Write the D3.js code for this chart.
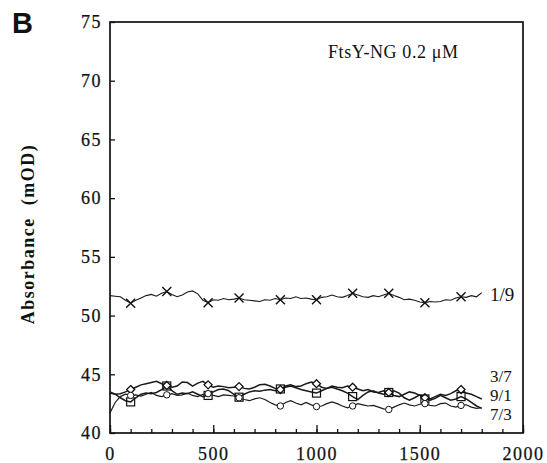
<!DOCTYPE html>
<html>
<head>
<meta charset="utf-8">
<script src="https://cdn.jsdelivr.net/npm/d3@7"></script>
<style>
  body { margin: 0; background: #fff; }
  svg { display: block; }
  .tick text { font-family: "Liberation Serif", "DejaVu Serif", serif; font-size: 18px; letter-spacing: 1.5px; fill: #111; stroke: #111; stroke-width: 0.25px; }
</style>
</head>
<body>
<div id="vis"></div>
<script>
// sample times (s)
var times = [0, 25, 50, 75, 100, 125, 150, 175, 200, 225,
	250, 275, 300, 325, 350, 375, 400, 425, 450, 475,
	500, 525, 550, 575, 600, 625, 650, 675, 700, 725,
	750, 775, 800, 825, 850, 875, 900, 925, 950, 975,
	1000, 1025, 1050, 1075, 1100, 1125, 1150, 1175, 1200, 1225,
	1250, 1275, 1300, 1325, 1350, 1375, 1400, 1425, 1450, 1475,
	1500, 1525, 1550, 1575, 1600, 1625, 1650, 1675, 1700, 1725,
	1750, 1775, 1800];

// absorbance (mOD) for each ratio
var s19 = [51.7, 51.65, 51.6, 51.3, 51.05, 51.3, 51.5, 51.7, 51.8, 51.65,
	51.9, 52.05, 51.8, 51.6, 51.75, 52.0, 52.1, 51.85, 51.3, 51.1,
	51.35, 51.3, 51.45, 51.35, 51.4, 51.5, 51.35, 51.3, 51.25, 51.2,
	51.35, 51.3, 51.45, 51.35, 51.5, 51.45, 51.6, 51.45, 51.5, 51.4,
	51.35, 51.55, 51.6, 51.75, 51.6, 51.55, 51.7, 51.9, 51.75, 51.6,
	51.55, 51.7, 51.6, 51.75, 51.9, 51.7, 51.55, 51.35, 51.4, 51.3,
	51.15, 51.1, 51.2, 51.15, 51.2, 51.35, 51.3, 51.5, 51.6, 51.55,
	51.7, 51.6, 51.95];

var s37 = [43.4, 43.3, 43.35, 43.5, 43.7, 43.9, 44.1, 44.2, 44.3, 44.4,
	44.2, 44.05, 43.9, 44.0, 44.35, 44.3, 44.0, 44.25, 44.4, 44.1,
	43.9, 44.0, 43.95, 43.85, 43.9, 43.95, 43.8, 43.75, 43.9, 44.1,
	44.15, 44.0, 43.8, 43.7, 44.0, 44.1, 43.95, 44.0, 44.2, 44.35,
	44.2, 43.9, 43.8, 44.0, 43.9, 43.85, 44.0, 43.9, 43.75, 43.6,
	43.7, 43.5, 43.45, 43.6, 43.45, 43.2, 43.1, 43.3, 43.5, 43.4,
	43.2, 43.0, 42.9, 43.1, 43.3, 43.2, 43.35, 43.6, 43.7, 43.4,
	43.3, 43.1, 42.9];

var s91 = [43.5, 43.3, 43.0, 42.75, 42.65, 43.0, 43.3, 43.4, 43.35, 43.45,
	43.7, 44.0, 43.6, 43.3, 43.4, 43.35, 43.5, 43.3, 43.1, 43.2,
	43.5, 43.7, 43.75, 43.6, 43.3, 43.05, 43.3, 43.5, 43.6, 43.55,
	43.65, 43.7, 43.6, 43.75, 43.9, 44.0, 43.85, 43.7, 43.6, 43.5,
	43.4, 43.6, 43.8, 43.9, 43.75, 43.6, 43.4, 43.1, 42.85, 43.2,
	43.5, 43.6, 43.4, 43.3, 43.45, 43.6, 43.4, 43.0, 42.8, 43.0,
	43.25, 42.9, 42.8, 42.95, 43.2, 43.0, 42.8, 42.9, 43.1, 42.9,
	42.6, 42.3, 42.1];

var s73 = [41.7, 42.6, 43.1, 43.3, 43.2, 43.25, 43.15, 43.3, 43.45, 43.2,
	43.1, 43.25, 43.35, 43.2, 43.25, 43.4, 43.2, 43.1, 43.3, 43.35,
	43.2, 43.1, 43.25, 43.2, 43.15, 43.0, 42.85, 42.75, 42.9, 43.0,
	42.85, 42.6, 42.4, 42.3, 42.6, 42.75, 42.55, 42.4, 42.6, 42.4,
	42.25, 42.3, 42.5, 42.65, 42.5, 42.3, 42.15, 42.3, 42.5, 42.4,
	42.3, 42.35, 42.2, 42.05, 42.0, 42.2, 42.4, 42.55, 42.4, 42.3,
	42.45, 42.5, 42.35, 42.3, 42.5, 42.55, 42.3, 42.2, 42.35, 42.4,
	42.2, 42.1, 42.15];

var markerTimes = [100, 275, 475, 625, 825, 1000, 1175, 1350, 1525, 1700];
var seriesNames = ["1/9", "3/7", "9/1", "7/3"];
var xTicks = [0, 500, 1000, 1500, 2000];
var yTicks = [40, 45, 50, 55, 60, 65, 70, 75];

var width = 547;
var height = 463;

var svg = d3.select("#vis")
	.append("svg")
	.attr("width", width)
	.attr("height", height);

var x = d3.scaleLinear().domain([0, 2000]).range([110, 523]);
var y = d3.scaleLinear().domain([40, 75]).range([433, 22]);

// frame
svg.append("rect")
	.attr("x", x(0))
	.attr("y", y(75))
	.attr("width", x(2000) - x(0))
	.attr("height", y(40) - y(75))
	.attr("fill", "none")
	.attr("stroke", "#111")
	.attr("stroke-width", 1.7);

// x axis, ticks pointing inward
var xaxis = svg.append("g")
	.attr("transform", "translate(0," + y(40) + ")")
	.call(d3.axisBottom(x).tickValues(xTicks).tickSize(-8).tickPadding(22).tickFormat(d3.format("d")));
var xminor = svg.append("g")
	.attr("transform", "translate(0," + y(40) + ")")
	.call(d3.axisBottom(x).tickValues(d3.range(0, 2001, 100)).tickSize(-4).tickFormat(""));

// y axis
var yaxis = svg.append("g")
	.attr("transform", "translate(" + x(0) + ",0)")
	.call(d3.axisLeft(y).tickValues(yTicks).tickSize(-5).tickPadding(8));

svg.selectAll(".domain").remove();
svg.selectAll(".tick line").attr("stroke", "#111").attr("stroke-width", 1.3);
xaxis.selectAll(".tick text").attr("dy", "0.3em");

// lines
var line = d3.line()
	.x(function(d, i) { return x(times[i]); })
	.y(function(d) { return y(d); })
	.curve(d3.curveLinear);

var allSeries = [s19, s37, s91, s73];
var widths = [1.1, 1.5, 1.5, 1.2];
for (var k = 0; k < allSeries.length; ++k) {
	svg.append("path")
		.attr("d", line(allSeries[k]))
		.attr("fill", "none")
		.attr("stroke", "#1a1a1a")
		.attr("stroke-width", widths[k]);
}

// markers
function markerPoints(values) {
	return markerTimes.map(function(t) {
		var i = times.indexOf(t);
		return [x(times[i]), y(values[i])];
	});
}

// crosses on 1/9
svg.append("g").selectAll("path")
	.data(markerPoints(s19))
	.enter().append("path")
	.attr("d", function(p) {
		var r = 4.5;
		return "M" + (p[0] - r) + "," + (p[1] - r) + "L" + (p[0] + r) + "," + (p[1] + r) +
			"M" + (p[0] - r) + "," + (p[1] + r) + "L" + (p[0] + r) + "," + (p[1] - r);
	})
	.attr("stroke", "#111")
	.attr("stroke-width", 1.4)
	.attr("fill", "none");

// diamonds on 3/7
svg.append("g").selectAll("path")
	.data(markerPoints(s37))
	.enter().append("path")
	.attr("d", function(p) {
		var r = 4;
		return "M" + p[0] + "," + (p[1] - r) + "L" + (p[0] + r) + "," + p[1] +
			"L" + p[0] + "," + (p[1] + r) + "L" + (p[0] - r) + "," + p[1] + "Z";
	})
	.attr("stroke", "#111")
	.attr("stroke-width", 1.3)
	.attr("fill", "#fff");

// squares on 9/1
svg.append("g").selectAll("rect")
	.data(markerPoints(s91))
	.enter().append("rect")
	.attr("x", function(p) { return p[0] - 4; })
	.attr("y", function(p) { return p[1] - 4; })
	.attr("width", 8)
	.attr("height", 8)
	.attr("stroke", "#111")
	.attr("stroke-width", 1.2)
	.attr("fill", "none");

// circles on 7/3
svg.append("g").selectAll("circle")
	.data(markerPoints(s73))
	.enter().append("circle")
	.attr("cx", function(p) { return p[0]; })
	.attr("cy", function(p) { return p[1]; })
	.attr("r", 3.2)
	.attr("stroke", "#111")
	.attr("stroke-width", 1)
	.attr("fill", "#fff");

// series labels
var labelY = [301, 382, 401, 420];
var labelSize = [19, 17, 17, 17];
for (var k = 0; k < seriesNames.length; ++k) {
	svg.append("text")
		.attr("x", 490)
		.attr("y", labelY[k])
		.text(seriesNames[k])
		.attr("font-family", "Liberation Serif, serif")
		.attr("font-size", labelSize[k])
		.attr("fill", "#111");
}

// title
svg.append("text")
	.attr("x", 328)
	.attr("y", 58)
	.text("FtsY-NG 0.2 \u03BCM")
	.attr("font-family", "Liberation Serif, serif")
	.attr("font-size", 18)
	.attr("letter-spacing", 0.6)
	.attr("fill", "#111");

// panel letter
svg.append("text")
	.attr("x", 12)
	.attr("y", 33)
	.text("B")
	.attr("font-family", "Liberation Sans, Arial, sans-serif")
	.attr("font-weight", "bold")
	.attr("font-size", 29)
	.attr("fill", "#111");

// y label
svg.append("text")
	.attr("transform", "translate(34,234) rotate(-90)")
	.attr("text-anchor", "middle")
	.style("white-space", "pre")
	.text("Absorbance  (mOD)")
	.attr("font-family", "Liberation Serif, serif")
	.attr("font-weight", "bold")
	.attr("font-size", 18)
	.attr("letter-spacing", 1.5)
	.attr("fill", "#111");
</script>
</body>
</html>
